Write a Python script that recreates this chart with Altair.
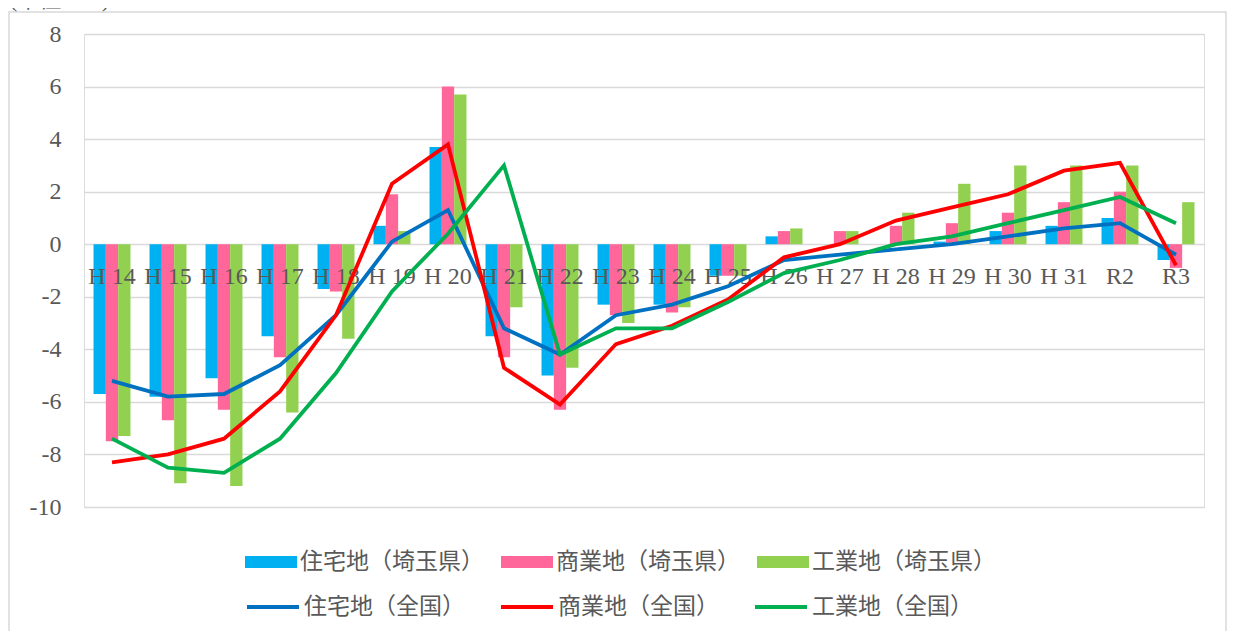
import altair as alt
import pandas as pd

categories = ["H 14", "H 15", "H 16", "H 17", "H 18", "H 19", "H 20", "H 21", "H 22", "H 23",
              "H 24", "H 25", "H 26", "H 27", "H 28", "H 29", "H 30", "H 31", "R2", "R3"]

bar_series = ["住宅地（埼玉県）", "商業地（埼玉県）", "工業地（埼玉県）"]
line_series = ["住宅地（全国）", "商業地（全国）", "工業地（全国）"]

res_saitama = [-5.7, -5.8, -5.1, -3.5, -1.7, 0.7, 3.7, -3.5, -5.0, -2.3,
               -2.3, -1.2, 0.3, 0.0, 0.0, 0.1, 0.5, 0.7, 1.0, -0.6]
com_saitama = [-7.5, -6.7, -6.3, -4.3, -1.8, 1.9, 6.0, -4.3, -6.3, -2.7,
               -2.6, -1.2, 0.5, 0.5, 0.7, 0.8, 1.2, 1.6, 2.0, -0.9]
ind_saitama = [-7.3, -9.1, -9.2, -6.4, -3.6, 0.5, 5.7, -2.4, -4.7, -3.0,
               -2.4, -1.2, 0.6, 0.5, 1.2, 2.3, 3.0, 3.0, 3.0, 1.6]

res_national = [-5.2, -5.8, -5.7, -4.6, -2.7, 0.1, 1.3, -3.2, -4.2, -2.7,
                -2.3, -1.6, -0.6, -0.4, -0.2, 0.0, 0.3, 0.6, 0.8, -0.4]
com_national = [-8.3, -8.0, -7.4, -5.6, -2.7, 2.3, 3.8, -4.7, -6.1, -3.8,
                -3.1, -2.1, -0.5, 0.0, 0.9, 1.4, 1.9, 2.8, 3.1, -0.8]
ind_national = [-7.4, -8.5, -8.7, -7.4, -4.9, -1.8, 0.4, 3.0, -4.2, -3.2,
                -3.2, -2.2, -1.1, -0.6, 0.0, 0.3, 0.8, 1.3, 1.8, 0.8]

y_ticks = [-10, -8, -6, -4, -2, 0, 2, 4, 6, 8]
unit_label = "(単位：%)"

bar_colors = ["#00b0f0", "#ff6699", "#92d050"]
line_colors = ["#0070c0", "#ff0000", "#00b050"]

FONT = "Liberation Serif, Noto Sans CJK JP"
GREY = "#595959"

bar_rows = []
for s, vals in zip(bar_series, [res_saitama, com_saitama, ind_saitama]):
    for c, v in zip(categories, vals):
        bar_rows.append({"cat": c, "series": s, "value": v})
bars_df = pd.DataFrame(bar_rows)

line_rows = []
for s, vals in zip(line_series, [res_national, com_national, ind_national]):
    for c, v in zip(categories, vals):
        line_rows.append({"cat": c, "series": s, "value": v})
lines_df = pd.DataFrame(line_rows)

cats_df = pd.DataFrame({"cat": categories})

x_enc = alt.X("cat:N", sort=categories,
              scale=alt.Scale(paddingInner=0.34, paddingOuter=0.17), axis=None)
y_enc = alt.Y("value:Q", scale=alt.Scale(domain=[-10, 8], nice=False),
              axis=alt.Axis(values=y_ticks, grid=True, domain=False, ticks=False,
                            labelPadding=23, labelFontSize=24, labelFont=FONT,
                            labelColor=GREY, gridColor="#d9d9d9", gridWidth=1.5,
                            labelExpr="'' + datum.value",
                            title=None))

bars = alt.Chart(bars_df).mark_bar().encode(
    x=x_enc,
    xOffset=alt.XOffset("series:N", sort=bar_series, scale=alt.Scale(paddingInner=0, paddingOuter=0)),
    y=y_enc,
    fill=alt.Fill("series:N", sort=bar_series,
                  scale=alt.Scale(domain=bar_series, range=bar_colors),
                  legend=alt.Legend(title=None, orient="none", legendX=161, legendY=502,
                                    direction="horizontal",
                                    symbolType="M-1,-0.23L1,-0.23L1,0.23L-1,0.23Z",
                                    symbolSize=2704, symbolStrokeWidth=0,
                                    labelFont=FONT, labelFontSize=23, labelColor=GREY,
                                    labelOffset=3, columnPadding=17, labelLimit=400)),
)

xlabels = alt.Chart(cats_df).mark_text(
    font=FONT, fontSize=24, color=GREY, baseline="alphabetic", align="center", dy=40
).encode(
    x=alt.X("cat:N", sort=categories),
    y=alt.datum(0),
    text="cat:N",
)

lines = alt.Chart(lines_df).mark_line(strokeWidth=3.8).encode(
    x=alt.X("cat:N", sort=categories),
    y=alt.Y("value:Q"),
    stroke=alt.Stroke("series:N", sort=line_series,
                      scale=alt.Scale(domain=line_series, range=line_colors),
                      legend=alt.Legend(title=None, orient="none", legendX=161, legendY=545,
                                        direction="horizontal", symbolType="stroke",
                                        symbolSize=2704, symbolStrokeWidth=3.8,
                                        labelFont=FONT, labelFontSize=23, labelColor=GREY,
                                        labelOffset=3, columnPadding=28, labelLimit=400)),
    detail="series:N",
)

frame = alt.Chart(alt.Data(values=[{"k": 1}])).mark_rect(
    fill="transparent", stroke="#d9d9d9", strokeWidth=1.5
).encode(
    x=alt.value(-75), x2=alt.value(1142), y=alt.value(-22), y2=alt.value(610)
)

unit = alt.Chart(alt.Data(values=[{"t": unit_label}])).mark_text(
    font=FONT, fontSize=22, color=GREY, align="left", baseline="alphabetic"
).encode(
    x=alt.value(-74), y=alt.value(-27), text="t:N"
)

chart = alt.layer(frame, unit, bars, xlabels, lines).resolve_scale(
    fill="independent", stroke="independent"
).properties(
    width=1120, height=473,
    autosize=alt.AutoSizeParams(type="none"),
    padding={"left": 76, "top": 26, "right": 24, "bottom": 124},
).configure_view(stroke=None).configure(background="white")

chart.save("out.html", embed_options={"renderer": "svg", "actions": False})
